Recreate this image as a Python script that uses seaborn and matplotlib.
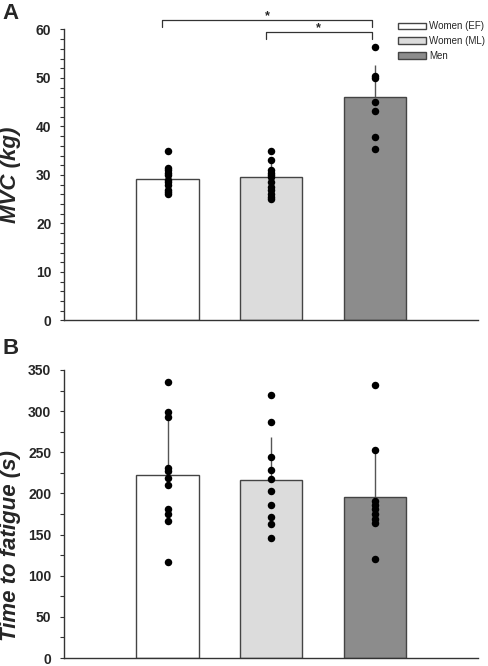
import numpy as np
import pandas as pd
import matplotlib
matplotlib.use('Agg')
import matplotlib.pyplot as plt
from matplotlib.ticker import MultipleLocator
import seaborn as sns

sns.set_style('ticks')
plt.rcParams['font.family'] = ['Liberation Sans', 'DejaVu Sans']

groups = ['Women (EF)', 'Women (ML)', 'Men']
bar_colors = ['#ffffff', '#dcdcdc', '#8c8c8c']

# Panel A - MVC (kg)
mvc_mean = [29.1, 29.6, 46.1]
mvc_sd = [2.6, 2.8, 6.5]
mvc_ef = [35, 31.5, 31, 30.5, 30, 29, 28.5, 28, 27, 26.5, 26]
mvc_ml = [35, 33, 31, 30.5, 30, 29.5, 28.5, 27.5, 27, 26, 25.5, 25]
mvc_men = [56.4, 50.5, 50, 45, 43.2, 37.9, 35.3]

# Panel B - time to fatigue (s)
ttf_mean = [222, 216, 196]
ttf_sd = [67, 52, 54]
ttf_ef = [335, 299, 293, 231, 227, 219, 210, 181, 175, 166, 117]
ttf_ml = [319, 287, 244, 229, 217, 203, 186, 171, 163, 146]
ttf_men = [332, 253, 191, 186, 181, 175, 169, 164, 120]

# significance brackets in panel A
sig_pairs = [(0, 2), (1, 2)]
sig_heights = [61.9, 59.5]


def long_table(values):
    rows = []
    for g, vals in zip(groups, values):
        for v in vals:
            rows.append({'group': g, 'value': v})
    return pd.DataFrame(rows)


def draw_panel(ax, means, sds, points, ymax, major, minor, ylabel):
    sns.barplot(x=groups, y=means, hue=groups, palette=bar_colors, width=0.6,
                edgecolor='#444444', linewidth=1.0, legend=False, ax=ax, zorder=1)
    handles = list(ax.patches[:3])
    ax.errorbar(x=np.arange(3), y=means, yerr=[np.zeros(3), sds], fmt='none',
                ecolor='#555555', elinewidth=1.0, capsize=0, zorder=2)
    df = long_table(points)
    sns.stripplot(data=df, x='group', y='value', order=groups, jitter=False,
                  color='black', size=5.4, linewidth=0, ax=ax, zorder=3)
    ax.set_xlim(-1, 3)
    ax.set_ylim(0, ymax)
    ax.yaxis.set_major_locator(MultipleLocator(major))
    ax.yaxis.set_minor_locator(MultipleLocator(minor))
    ax.set_xticks([0, 1, 2])
    ax.set_xticklabels([])
    ax.set_xlabel('')
    ax.set_ylabel(ylabel, fontsize=16, fontweight='bold', fontstyle='italic')
    ax.tick_params(axis='y', which='both', direction='out', length=3, width=0.8,
                   labelsize=10, color='#333333', pad=6)
    ax.tick_params(axis='x', direction='in', length=2, width=0.8, color='#333333')
    for lab in ax.get_yticklabels():
        lab.set_fontweight('bold')
    for side in ['top', 'right']:
        ax.spines[side].set_visible(False)
    for side in ['left', 'bottom']:
        ax.spines[side].set_color('#333333')
        ax.spines[side].set_linewidth(1.0)
    return handles


fig = plt.figure(figsize=(4.88, 6.66), dpi=100)
ax_a = fig.add_axes([0.131, 0.5188, 0.849, 0.437])
ax_b = fig.add_axes([0.131, 0.012, 0.849, 0.4325])

handles = draw_panel(ax_a, mvc_mean, mvc_sd, [mvc_ef, mvc_ml, mvc_men],
                     60, 10, 2, 'MVC (kg)')
draw_panel(ax_b, ttf_mean, ttf_sd, [ttf_ef, ttf_ml, ttf_men],
           350, 50, 25, 'Time to fatigue (s)')
ax_a.yaxis.set_label_coords(-0.103, 0.5)
ax_b.yaxis.set_label_coords(-0.103, 0.39)

# brackets
for (i, j), h in zip(sig_pairs, sig_heights):
    xl, xr = i - 0.05, j - 0.03
    ax_a.plot([xl, xl, xr, xr], [h - 1.4, h, h, h - 1.4], color='#333333',
              lw=0.9, clip_on=False)
    ax_a.text((xl + xr) / 2, h - 0.5, '*', ha='center', va='bottom',
              fontsize=9, fontweight='bold', clip_on=False)

ax_a.legend(handles, groups, loc='upper left', bbox_to_anchor=(0.807, 1.028),
            frameon=False, fontsize=7.0, handlelength=2.85, handleheight=0.65,
            handletextpad=0.35, labelspacing=0.5, borderpad=0, borderaxespad=0)

fig.text(0.006, 0.995, 'A', fontsize=16, fontweight='bold', va='top', ha='left')
fig.text(0.006, 0.493, 'B', fontsize=16, fontweight='bold', va='top', ha='left')

fig.savefig('out.png', dpi=100)
